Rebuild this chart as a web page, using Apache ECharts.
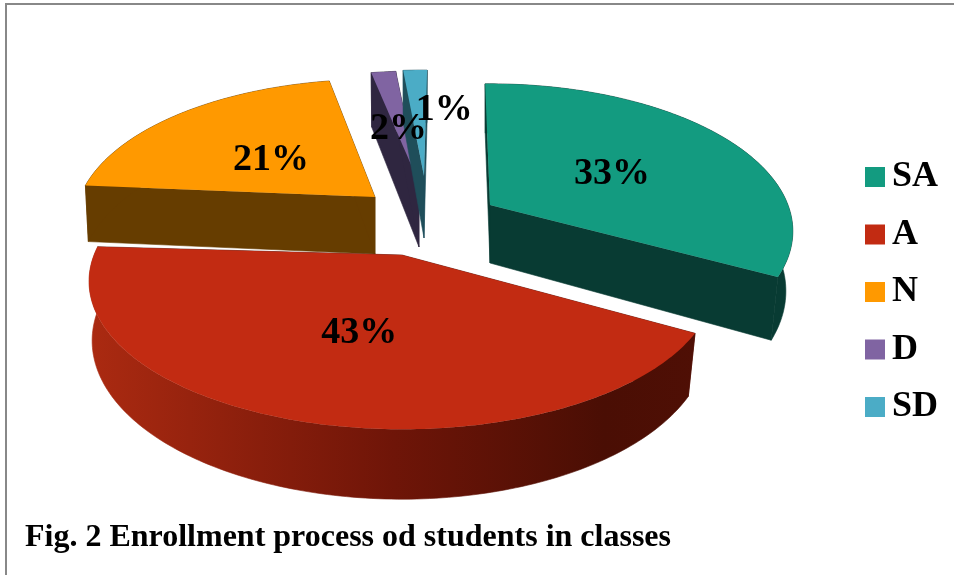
<!DOCTYPE html>
<html><head><meta charset="utf-8">
<style>html,body{margin:0;padding:0;background:#fff}#c{width:954px;height:575px}</style>
<script src="https://cdn.jsdelivr.net/npm/echarts@6/dist/echarts.min.js"></script>
</head><body><div id="c"></div>
<script>
const categories = ['SA','A','N','D','SD'];
const values = [33.0,42.9,21.2,1.6,1.4];
const titleText = 'Fig. 2 Enrollment process od students in classes';

const topColors = ['#139B80','#C22B12','#FF9900','#8064A2','#4BACC6'];
const sideColors = ['#083B33','#5A1007','#663D00','#2F2640','#1F4E5A'];
const layout = {
  SA:{cx:490,cy:205,r:298,tilt:0.479,depth:58,adj:[0,0],nudge:[1,5]},
  A:{cx:402,cy:255,r:308,tilt:0.465,depth:57.5,adj:[2.3,1.5],nudge:[0,2]},
  N:{cx:375,cy:197,r:295,tilt:0.47,depth:57,adj:[3,1.4],nudge:[3,5]},
  D:{cx:419,cy:183,r:300,tilt:0.44,depth:64,adj:[1.1,0.9],nudge:[1,6]},
  SD:{cx:424,cy:176,r:300,tilt:0.416,depth:62,adj:[1.44,1.8],nudge:[29,-9]}
};
const drawOrder = ['N','D','SD','SA','A'];
const startDeg = -1.1, persp = 0.178;
const total = values.reduce((a,b)=>a+b,0);

function project(l, deg, rad, bottom){
  const t = deg*Math.PI/180, u = Math.sin(t)*rad, v = -Math.cos(t)*rad;
  const w = 1 - persp*v;
  const x = l.r*u/w, y = l.r*l.tilt*v/w;
  return bottom ? [l.cx + x*(x>0?0.977:0.99), l.cy + y + l.depth/w] : [l.cx + x, l.cy + y];
}
function arc(l,a,b,bottom){
  const pts=[]; const n=Math.max(4,Math.ceil(Math.abs(b-a)));
  for(let i=0;i<=n;i++) pts.push(project(l,a+(b-a)*i/n,1,bottom));
  return pts;
}
function renderSlice(name){
  return function(params, api){
    const idx = categories.indexOf(name), val = api.value(0), l = layout[name];
    let a = startDeg;
    for(let i=0;i<idx;i++) a += values[i]/total*360;
    const b0 = a + val/total*360, mid=(a+b0)/2;
    const b = b0 + l.adj[1]; a = a + l.adj[0];
    const apexT=[l.cx,l.cy], apexB=[l.cx,l.cy+l.depth];
    const side = name==='A'
      ? new echarts.graphic.LinearGradient(0,0,1,0,[{offset:0,color:'#AB2A11'},{offset:0.5,color:'#6F1508'},{offset:0.85,color:'#4A0E04'},{offset:1,color:'#4F0F05'}])
      : sideColors[idx];
    const face=(deg)=>{
      const p=project(l,deg,1,false), q=project(l,deg,1,true);
      return {type:'polygon',silent:true,shape:{points:[apexT,p,q,apexB]},style:{fill:sideColors[idx],stroke:sideColors[idx],lineWidth:0.6}};
    };
    const wallPts = arc(l,a,b,false).concat(arc(l,a,b,true).reverse());
    const labelPos = project(l,mid,0.5,false);
    return {type:'group',children:[
      face(a),face(b),
      {type:'polygon',silent:true,shape:{points:wallPts},style:{fill:side,stroke:side,lineWidth:0.6}},
      {type:'polygon',silent:true,shape:{points:[apexT].concat(arc(l,a,b,false))},style:{fill:topColors[idx]}},
      {type:'text',silent:true,z2:50,style:{text:Math.round(val)+'%',x:labelPos[0]+l.nudge[0],y:labelPos[1]+l.nudge[1],
        align:'center',verticalAlign:'middle',fill:'#000',font:'bold 38px "Liberation Serif"'}}
    ]};
  };
}
const series = drawOrder.map(name=>{
  const i = categories.indexOf(name);
  return {type:'custom',name:name,coordinateSystem:'none',renderItem:renderSlice(name),
    data:[[values[i]]],itemStyle:{color:topColors[i]},animation:false,silent:true};
});
const chart = echarts.init(document.getElementById('c'),null,{renderer:'canvas'});
chart.setOption({
  animation:false,
  backgroundColor:'#fff',
  tooltip:{show:false},
  legend:{data:categories,orient:'vertical',left:860,top:154,icon:'rect',itemWidth:20,itemHeight:20,itemGap:21.5,
    selectedMode:false,textStyle:{fontFamily:'"Liberation Serif"',fontWeight:'bold',fontSize:36,color:'#000',lineHeight:26,padding:[3,0,0,2]}},
  title:{text:titleText,left:20,top:517,textStyle:{fontFamily:'"Liberation Serif"',fontWeight:'bold',fontSize:32,color:'#000'}},
  graphic:[
    {type:'rect',silent:true,shape:{x:5,y:3,width:949,height:2},style:{fill:'#888'}},
    {type:'rect',silent:true,shape:{x:5,y:3,width:2,height:572},style:{fill:'#888'}}
  ],
  series:series
});
</script></body></html>
